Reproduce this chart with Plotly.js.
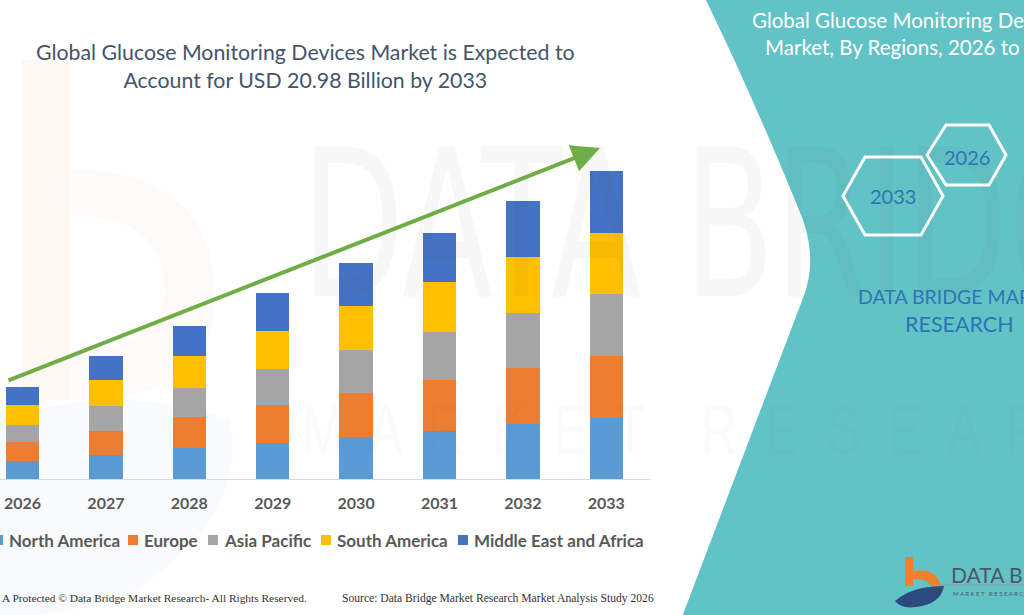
<!DOCTYPE html>
<html>
<head>
<meta charset="utf-8">
<script src="https://cdn.plot.ly/plotly-3.0.1.min.js"></script>
<style>
  html, body { margin: 0; padding: 0; background: #ffffff; overflow: hidden; }
  #chart { width: 1024px; height: 615px; }
</style>
</head>
<body>
<div id="chart"></div>
<script>
// Glucose monitoring devices market by region, USD billion
const years = ['2026', '2027', '2028', '2029', '2030', '2031', '2032', '2033'];
const northAmerica     = [1.20, 1.61, 2.08, 2.47, 2.88, 3.29, 3.72, 4.15];
const europe           = [1.29, 1.68, 2.11, 2.57, 2.98, 3.47, 3.81, 4.24];
const asiaPacific      = [1.21, 1.70, 2.02, 2.45, 2.90, 3.27, 3.77, 4.20];
const southAmerica     = [1.31, 1.72, 2.18, 2.56, 3.00, 3.41, 3.81, 4.18];
const middleEastAfrica = [1.25, 1.68, 2.06, 2.59, 2.96, 3.34, 3.81, 4.21];

const seriesNames  = ['North America', 'Europe', 'Asia Pacific', 'South America', 'Middle East and Africa'];
const seriesValues = [northAmerica, europe, asiaPacific, southAmerica, middleEastAfrica];
const seriesColors = ['#5B9BD5', '#ED7D31', '#A5A5A5', '#FFC000', '#4472C4'];

// Plot area in page pixels
const W = 1024, H = 615;
const PL = 0, PR = 650, PT = 110, PB = 479;
const fx = x => (x - PL) / (PR - PL);
const fy = y => (PB - y) / (PB - PT);
// convert an SVG path written in page pixels into paper coordinates
const pxPath = s => s.replace(/(-?[\d.]+),(-?[\d.]+)/g, (m, a, b) => fx(+a) + ',' + fy(+b));

const traces = seriesNames.map((name, i) => ({
  type: 'bar',
  name: name,
  x: years,
  y: seriesValues[i],
  marker: { color: seriesColors[i], line: { width: 0 } },
  hoverinfo: 'skip'
}));

const FONT = 'Lato, "Open Sans", sans-serif';
const TEAL = '#62C3C6';

const shapes = [
  // faint brand watermark: stem and bowl
  { type: 'rect', xref: 'paper', yref: 'paper', layer: 'below',
    x0: fx(22), x1: fx(70), y0: fy(60), y1: fy(400),
    fillcolor: 'rgba(245,160,90,0.07)', line: { width: 0 } },
  { type: 'path', xref: 'paper', yref: 'paper', layer: 'below',
    path: pxPath('M70,170 Q215,170 215,300 Q215,400 70,400 L70,350 Q165,350 165,290 Q165,215 70,215 Z'),
    fillcolor: 'rgba(245,160,90,0.05)', line: { width: 0 } },
  { type: 'path', xref: 'paper', yref: 'paper', layer: 'below',
    path: pxPath('M0,420 Q120,380 230,420 Q250,520 120,600 L40,615 L0,615 Z'),
    fillcolor: 'rgba(120,150,190,0.05)', line: { width: 0 } },
  // teal side panel
  { type: 'path', xref: 'paper', yref: 'paper', layer: 'below',
    path: pxPath('M705,-2 Q752,95 797,205 Q820,255 803,298 L682,617 L1026,617 L1026,-2 Z'),
    fillcolor: TEAL, line: { width: 0 } },
  // hexagons
  { type: 'path', xref: 'paper', yref: 'paper',
    path: pxPath('M843,196 L865,157 L921,157 L943,196 L921,235 L865,235 Z'),
    line: { color: '#ffffff', width: 3 } },
  { type: 'path', xref: 'paper', yref: 'paper',
    path: pxPath('M927,155 L946,125 L989,125 L1006,155 L989,185 L946,185 Z'),
    line: { color: '#ffffff', width: 3 } },
  // logo mark
  { type: 'path', xref: 'paper', yref: 'paper',
    path: pxPath('M905,557 L913,557 L913,571 Q936,567 941,586 L931,586 Q927,578 913,579 L913,586 L905,586 Z'),
    fillcolor: '#F07F2E', line: { width: 0 } },
  { type: 'path', xref: 'paper', yref: 'paper',
    path: pxPath('M895,601 Q912,586 944,586 Q941,604 916,607 Q901,609 895,601 Z'),
    fillcolor: '#2C4A80', line: { width: 0 } },
  { type: 'line', xref: 'paper', yref: 'paper',
    x0: fx(938), x1: fx(1024), y0: fy(585), y1: fy(585),
    line: { color: '#8A9AA8', width: 1 } }
];

// legend swatches
const legendX = [-7, 128, 208, 321, 458];
seriesColors.forEach((c, i) => {
  shapes.push({ type: 'rect', xref: 'paper', yref: 'paper',
    x0: fx(legendX[i]), x1: fx(legendX[i] + 10), y0: fy(545), y1: fy(535),
    fillcolor: c, line: { width: 0 } });
});

const annotations = [
  // large faint wordmark (narrowed after drawing)
  { xref: 'paper', yref: 'paper', x: fx(300), y: fy(225), xanchor: 'left', yanchor: 'middle',
    text: 'DATA BRIDGE', showarrow: false,
    font: { family: '"Liberation Sans Narrow", "DejaVu Sans Condensed", sans-serif', size: 205, color: 'rgba(70,70,70,0.045)' } },
  { xref: 'paper', yref: 'paper', x: fx(300), y: fy(430), xanchor: 'left', yanchor: 'middle',
    text: 'M  A  R  K  E  T    R  E  S  E  A  R  C  H', showarrow: false,
    font: { family: '"Liberation Sans Narrow", sans-serif', size: 70, color: 'rgba(70,70,70,0.025)' } },
  // growth arrow
  { xref: 'paper', yref: 'paper', x: fx(600), y: fy(148), ax: -593, ay: 233,
    text: '', showarrow: true, arrowhead: 2, arrowsize: 1.4, arrowwidth: 4,
    arrowcolor: '#70AD47', standoff: 0, startstandoff: 0 },
  // main title
  { xref: 'paper', yref: 'paper', x: fx(305), y: fy(66), xanchor: 'center', yanchor: 'middle',
    text: 'Global Glucose Monitoring Devices Market is Expected to<br>Account for USD 20.98 Billion by 2033',
    showarrow: false, align: 'center',
    font: { family: FONT, size: 21.3, color: '#44546A' } },
  // side panel texts
  { xref: 'paper', yref: 'paper', x: fx(750), y: fy(20), xanchor: 'left', yanchor: 'middle',
    text: 'Global Glucose Monitoring Devices', showarrow: false,
    font: { family: FONT, size: 20.5, color: '#ffffff' } },
  { xref: 'paper', yref: 'paper', x: fx(763), y: fy(47), xanchor: 'left', yanchor: 'middle',
    text: 'Market, By Regions, 2026 to 2033', showarrow: false,
    font: { family: FONT, size: 20.5, color: '#ffffff' } },
  { xref: 'paper', yref: 'paper', x: fx(893), y: fy(196), xanchor: 'center', yanchor: 'middle',
    text: '2033', showarrow: false, font: { family: FONT, size: 20, color: '#2E75B6' } },
  { xref: 'paper', yref: 'paper', x: fx(967), y: fy(157), xanchor: 'center', yanchor: 'middle',
    text: '2026', showarrow: false, font: { family: FONT, size: 20, color: '#2E75B6' } },
  { xref: 'paper', yref: 'paper', x: fx(856), y: fy(296), xanchor: 'left', yanchor: 'middle',
    text: 'DATA BRIDGE MARKET', showarrow: false, font: { family: FONT, size: 19.5, color: '#2E75B6' } },
  { xref: 'paper', yref: 'paper', x: fx(903), y: fy(324), xanchor: 'left', yanchor: 'middle',
    text: 'RESEARCH', showarrow: false, font: { family: FONT, size: 21.5, color: '#2E75B6' } },
  // logo wordmark
  { xref: 'paper', yref: 'paper', x: fx(949), y: fy(574), xanchor: 'left', yanchor: 'middle',
    text: 'DATA BRIDGE', showarrow: false, font: { family: FONT, size: 21, color: '#4A5868' } },
  { xref: 'paper', yref: 'paper', x: fx(951), y: fy(593), xanchor: 'left', yanchor: 'middle',
    text: 'M A R K E T   R E S E A R C H', showarrow: false, font: { family: FONT, size: 6, color: '#4A5868' } },
  // footer
  { xref: 'paper', yref: 'paper', x: fx(0), y: fy(598), xanchor: 'left', yanchor: 'middle',
    text: 'A Protected © Data Bridge Market Research- All Rights Reserved.', showarrow: false,
    font: { family: '"Liberation Serif", serif', size: 11.4, color: '#333333' } },
  { xref: 'paper', yref: 'paper', x: fx(340), y: fy(598), xanchor: 'left', yanchor: 'middle',
    text: 'Source: Data Bridge Market Research Market Analysis Study 2026', showarrow: false,
    font: { family: '"Liberation Serif", serif', size: 11.6, color: '#333333' } }
];

// legend labels
seriesNames.forEach((n, i) => {
  annotations.push({ xref: 'paper', yref: 'paper', x: fx(legendX[i] + 14), y: fy(540),
    xanchor: 'left', yanchor: 'middle', text: n, showarrow: false,
    font: { family: FONT, size: 17, weight: 'bold', color: '#595959' } });
});

const layout = {
  width: W, height: H,
  margin: { l: PL, r: W - PR, t: PT, b: H - PB, pad: 0 },
  paper_bgcolor: '#ffffff',
  plot_bgcolor: 'rgba(0,0,0,0)',
  barmode: 'stack',
  bargap: 0.6,
  showlegend: false,
  xaxis: {
    type: 'category',
    range: [-0.27, 7.524],
    showgrid: false, zeroline: false,
    showline: true, linecolor: '#D9D9D9', linewidth: 1,
    ticks: '', ticklabelstandoff: 10,
    tickfont: { family: FONT, size: 16, weight: 'bold', color: '#595959' }
  },
  yaxis: {
    range: [0, 25.135],
    visible: false, showgrid: false, zeroline: false
  },
  shapes: shapes,
  annotations: annotations
};

Plotly.newPlot('chart', traces, layout, { staticPlot: true, displayModeBar: false }).then(gd => {
  // narrow the two watermark wordmarks horizontally, keeping their left edges
  [0, 1].forEach(idx => {
    const t = gd.querySelector('.annotation[data-index="' + idx + '"] text');
    if (!t) return;
    const bb = t.getBBox();
    t.setAttribute('transform', 'translate(' + bb.x + ',0) scale(0.72,1) translate(' + (-bb.x) + ',0)');
  });
});
</script>
</body>
</html>
